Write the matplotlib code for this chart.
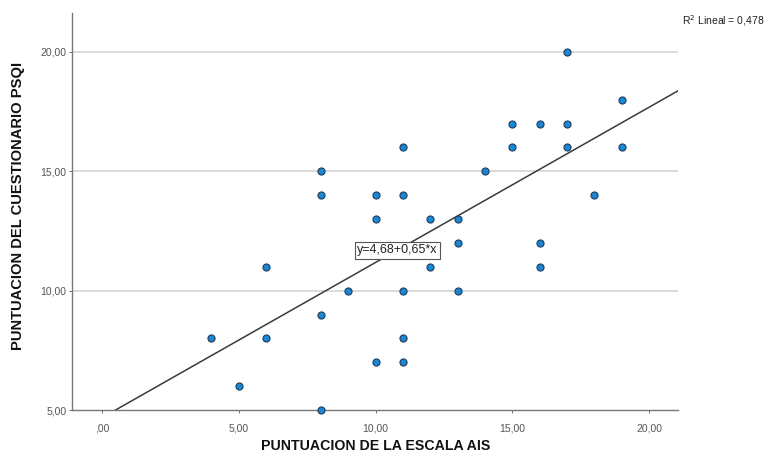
import matplotlib
matplotlib.use('Agg')
import matplotlib.pyplot as plt
from matplotlib.ticker import FuncFormatter
import numpy as np

# AIS score (x) vs PSQI score (y)
ais = [4, 5, 6, 6, 8, 8, 8, 8, 9, 10, 10, 10, 11, 11, 11, 11, 11,
       12, 12, 13, 13, 13, 14, 15, 15, 16, 16, 16, 17, 17, 17, 18, 19, 19]
psqi = [8, 6, 11, 8, 15, 14, 9, 5, 10, 14, 13, 7, 16, 14, 10, 8, 7,
        13, 11, 13, 12, 10, 15, 17, 16, 17, 12, 11, 20, 17, 16, 14, 18, 16]

# fitted line as printed on the chart
intercept = 4.68
slope = 0.65
r2_text = 'R$^2$ Lineal = 0,478'
eq_text = 'y=4,68+0,65*x'

x_ticks = [0, 5, 10, 15, 20]
y_ticks = [5, 10, 15, 20]


def comma_fmt(v, pos):
    s = '%.2f' % v
    s = s.replace('.', ',')
    if s.startswith('0,'):
        s = s[1:]
    return s


def main():
    plt.rcParams['font.family'] = ['Liberation Sans', 'DejaVu Sans']
    fig = plt.figure(figsize=(7.67, 4.54), dpi=100)
    ax = fig.add_axes([0.0939, 0.0969, 0.790, 0.8745])

    xlim = (-1.1, 21.06)
    ax.set_xlim(*xlim)
    ax.set_ylim(5.0, 21.63)

    # horizontal grid only
    for yv in y_ticks[1:]:
        ax.axhline(yv, color='#d4d4d4', linewidth=1.2, zorder=0)

    # regression line across the plot
    xs = np.array(xlim)
    ax.plot(xs, intercept + slope * xs, color='#3a3a3a', linewidth=1.1, zorder=2)

    ax.scatter(ais, psqi, s=26, facecolor='#1a86d6', edgecolor='#1f3b57',
               linewidth=0.8, zorder=3, clip_on=False)

    # equation label sitting on the line
    xe = 10.8
    ax.text(xe, intercept + slope * xe, eq_text, fontsize=9, ha='center',
            va='center', color='#222222', zorder=4,
            bbox=dict(boxstyle='square,pad=0.2', facecolor='white',
                      edgecolor='#555555', linewidth=0.8))

    fig.text(0.997, 0.955, r2_text, fontsize=7.5, ha='right', va='center',
             color='#222222')

    ax.set_xticks(x_ticks)
    ax.set_yticks(y_ticks)
    ax.xaxis.set_major_formatter(FuncFormatter(comma_fmt))
    ax.yaxis.set_major_formatter(FuncFormatter(comma_fmt))
    ax.tick_params(axis='both', labelsize=7.5, colors='#555555', length=2,
                   width=0.6)
    ax.tick_params(axis='x', pad=8)
    ax.tick_params(axis='y', pad=2)

    for side in ['top', 'right']:
        ax.spines[side].set_visible(False)
    for side in ['left', 'bottom']:
        ax.spines[side].set_color('#777777')
        ax.spines[side].set_linewidth(1.0)

    # axis titles placed in figure pixels, like the reference
    fig.text(376 / 767, 1 - 446 / 454, 'PUNTUACION DE LA ESCALA AIS',
             fontsize=10.2, fontweight='bold', color='#111111',
             ha='center', va='center')
    fig.text(18 / 767, 1 - 206 / 454, 'PUNTUACION DEL CUESTIONARIO PSQI',
             fontsize=10.6, fontweight='bold', color='#111111',
             ha='center', va='center', rotation=90)

    fig.savefig('out.png', dpi=100)


if __name__ == '__main__':
    main()
